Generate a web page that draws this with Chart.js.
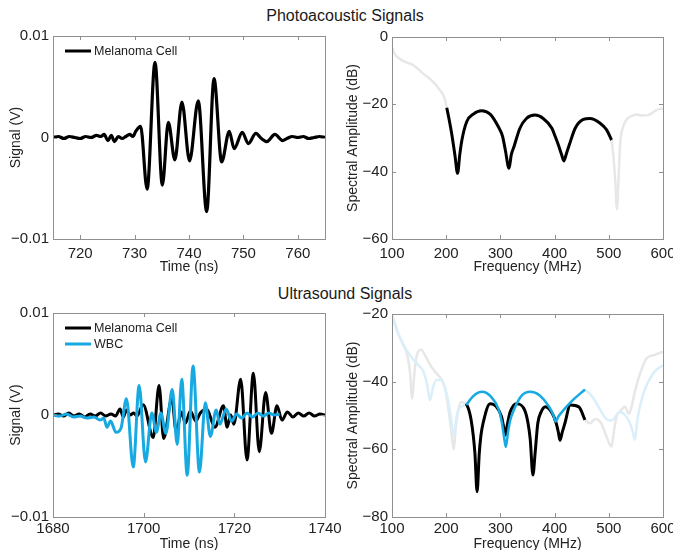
<!DOCTYPE html>
<html>
<head>
<meta charset="utf-8">
<script src="https://cdn.jsdelivr.net/npm/chart.js@4/dist/chart.umd.min.js"></script>
<style>
  html, body { margin: 0; padding: 0; background: #fff; }
  body { width: 673px; height: 550px; position: relative; overflow: hidden; font-family: "Liberation Sans", Arial, sans-serif; }
  .panel { position: absolute; }
  .suptitle { position: absolute; left: 0; width: 690px; text-align: center; font-size: 16px; color: #1a1a1a; }
</style>
</head>
<body>
<div class="suptitle" style="top:7px">Photoacoustic Signals</div>
<div class="suptitle" style="top:285px">Ultrasound Signals</div>
<div class="panel" style="left:0;top:30px;width:345px;height:250px"><canvas id="pa-time"></canvas></div>
<div class="panel" style="left:333px;top:30px;width:340px;height:250px"><canvas id="pa-spec"></canvas></div>
<div class="panel" style="left:0;top:300px;width:345px;height:250px"><canvas id="us-time"></canvas></div>
<div class="panel" style="left:333px;top:300px;width:340px;height:250px"><canvas id="us-spec"></canvas></div>
<script>
// ---- data ----
const PA_TIME   = [715,716,717,718,719,720,721,722,723,723.8,724.4,725.1,725.7,726.3,727,727.7,728.4,729.1,729.7,730.2,731.1,732.3,733.75,735.1,736.2,737.4,738.7,740.1,741.7,743.25,744.6,746.0,747.4,748.3,749.8,750.9,752.3,753.3,754.3,755.8,757.2,758,759,760,761,762,763,764,765];
const PA_SIGNAL = [0,0.0001,-0.0001,0.0001,0,-0.0001,0.0001,0,0.0002,0.0001,0.0003,-0.0003,0.0002,-0.0004,0.0001,-0.0001,0.0001,0.0003,0.0001,0.0006,0.0011,-0.0051,0.0074,-0.0047,0.0015,-0.0022,0.0035,-0.0023,0.0036,-0.0073,0.0058,-0.0024,0.0006,-0.0011,0.0005,-0.0006,0.0004,-0.0001,-0.0004,0.0003,-0.0003,-0.0001,0.0001,0,0.0001,-0.0001,0,0.0001,0];

const PA_FREQ_BAND = [201,206,210,216,221,225,229,238,250,265,281,296,304,309,316,320,325,336,348,364,379,395,401,407,413,417,422,427,438,453,465,484,496,505];
const PA_DB_BAND   = [-21,-25,-28.6,-35,-40.5,-35,-30.6,-25.1,-22.9,-21.9,-22.9,-26.6,-29.5,-33.5,-39,-35,-32.6,-27.1,-24.2,-23.2,-24.2,-27.1,-29.5,-32.1,-35,-36.8,-34.5,-32.1,-27.1,-24.5,-24.2,-25.6,-27.6,-30.6];
const PA_FREQ_LOW  = [100,105,111,123,139,157,176,188,197,201];
const PA_DB_LOW    = [-3,-5,-6.1,-7.3,-8.3,-10.8,-13.3,-15.7,-18.2,-21];
const PA_FREQ_HIGH = [505,508,512,515,518,521,527,532,541,551,562,572,588,600];
const PA_DB_HIGH   = [-30.6,-34.5,-43,-51.2,-42,-31.6,-26.5,-24.7,-23.5,-23,-23.3,-23.2,-21.7,-21.2];

const US_TIME_MEL   = [1680,1681.2,1682.3,1683.5,1684.6,1685.8,1687,1688.2,1689.3,1690.5,1691.6,1692.8,1693.8,1694.8,1695.5,1696.2,1697,1697.8,1698.5,1699.9,1702.1,1703.4,1704.4,1706.2,1707.2,1708.3,1709.2,1710.3,1711.5,1712.5,1713.9,1715.7,1717.6,1718.4,1719.2,1719.9,1721.4,1722.8,1724.2,1725.5,1726.9,1728.2,1729.4,1730.5,1731.7,1732.9,1734.1,1735.3,1736.5,1737.7,1738.9,1740];
const US_SIGNAL_MEL = [0,0.0001,-0.0001,0.0002,-0.0001,0.0001,-0.0002,0.0001,-0.0001,0.0002,-0.0001,0.0001,-0.0001,0.0006,-0.0002,0.0005,0,0.0002,-0.0001,0.001,-0.0022,0.0029,-0.0023,0.0016,-0.0017,0.0003,-0.0008,0.0004,-0.0006,0.0002,0.0006,-0.0012,0.0009,-0.0012,0,-0.0009,0.0035,-0.0044,0.0041,-0.0036,0.0022,-0.0018,0.0009,-0.0005,0.0003,-0.0002,0.0002,-0.0001,0.0002,-0.0001,0.0001,0];
const US_TIME_WBC   = [1680,1681.5,1683,1684.5,1686,1687.5,1689,1690.4,1691.2,1691.9,1692.7,1693.9,1695,1696.2,1697.7,1699.0,1700.4,1701.8,1702.8,1703.8,1704.9,1706.3,1707.4,1708.4,1709.6,1710.9,1712.3,1713.6,1714.7,1716.0,1716.8,1718.2,1719.4,1720.5,1721.6,1722.8,1724,1725.2,1726.4,1727.6,1728.8,1730];
const US_SIGNAL_WBC = [0,-0.0001,0.0001,-0.0002,-0.0001,-0.0003,-0.0002,-0.0005,-0.0003,-0.0012,-0.0006,-0.0017,-0.0013,0.0016,-0.0051,0.0029,-0.0046,0.0002,-0.0017,0.0002,-0.0018,0.0025,-0.0029,0.0035,-0.0059,0.0048,-0.0056,0.0012,-0.0021,0.0005,-0.0009,0.0006,-0.0006,0.0001,-0.0003,0.0002,-0.0002,0.0002,-0.0001,0.0002,0,0.0001];

const US_FREQ_MEL_BAND = [237,242,246,250,253,257,261,264,268,281,292,302,305,309,313,318,330,345,351,355,360,364,369,375,383,396,403,407,410,414,419,429,445,456];
const US_DB_MEL_BAND   = [-46.5,-48.5,-51.3,-56,-61.2,-72.5,-61.2,-56,-52.3,-46.5,-47.3,-50.3,-52.5,-55.8,-52.5,-49,-46.5,-48.5,-52.3,-57,-67.6,-61.2,-52.3,-49,-47.4,-49.5,-52.3,-55,-57.3,-55,-52.3,-46.9,-47.5,-51.3];
const US_FREQ_WBC_BAND = [237,249,266,283,296,302,306,310,314,318,326,340,355,372,390,398,402,407,416,434,456];
const US_DB_WBC_BAND   = [-46.9,-44.4,-43,-44.5,-47.9,-51.5,-55.5,-59.3,-55,-51.5,-47.9,-44,-43,-44,-47.5,-50,-51.8,-50.3,-48.5,-45.4,-42.3];
const US_FREQ_MEL_LOW  = [100,106,112,120,128,133,137.5,141,146,154,162,172,182,192,198,204,209,214,218,222,228,237];
const US_DB_MEL_LOW    = [-20.3,-23,-26,-29,-32,-37,-45,-38,-32,-30.6,-32.5,-35.5,-37.5,-39.5,-42,-48,-54,-60,-53,-48.5,-46,-46.5];
const US_FREQ_WBC_LOW  = [100,108,118,128,137,148,158,165,170,176,182,190,197,204,209,214,219,226,237];
const US_DB_WBC_LOW    = [-21,-24.5,-28,-31,-33,-35,-37,-41,-45.4,-41.5,-39.5,-39.5,-41.5,-46,-51,-56,-50.5,-47.5,-46.9];
const US_FREQ_MEL_HIGH = [456,465,475,485,493,500,505,510,515,520,530,537,541,548,558,570,585,600];
const US_DB_MEL_HIGH   = [-51.3,-52.3,-51,-52,-55,-58,-59.2,-54,-50,-48.9,-47.4,-49.5,-48,-43,-37.5,-33.1,-32.1,-31.1];
const US_FREQ_WBC_HIGH = [456,470,483,495,505,520,535,543,548,553,564,582,600];
const US_DB_WBC_HIGH   = [-42.3,-44.5,-48,-51,-51.5,-49,-51,-54,-57.2,-51,-43.4,-37.5,-35.1];

const PA_TIME_TICKS = [720,730,740,750,760];
const US_TIME_TICKS = [1680,1700,1720,1740];
const SIGNAL_TICKS  = [-0.01,0,0.01];
const FREQ_TICKS    = [100,200,300,400,500,600];
const PA_DB_TICKS   = [-60,-40,-20,0];
const US_DB_TICKS   = [-80,-60,-40,-20];

const BLACK = '#000000', BLUE = '#17a9e1', FADED_GRAY = '#e7e7e7', FADED_BLUE = '#daeff9';
const FONT = '"Liberation Sans", Arial, Helvetica, sans-serif';

Chart.defaults.font.family = FONT;
Chart.defaults.color = '#222';

const pts = (xs, ys) => xs.map((x, i) => ({ x, y: ys[i] }));
const minus = v => v === 0 ? '0' : (v < 0 ? '\u2212' : '') + Math.abs(v);

// box round the axes, inward tick marks on all four sides, legend inside top-left
const matlabAxes = {
  id: 'matlabAxes',
  afterDraw(chart) {
    const { ctx, chartArea: a, scales: { x, y } } = chart;
    ctx.save();
    ctx.strokeStyle = '#8f8f8f';
    ctx.lineWidth = 1;
    ctx.strokeRect(Math.round(a.left) + 0.5, Math.round(a.top) + 0.5, Math.round(a.width), Math.round(a.height));
    ctx.beginPath();
    x.ticks.forEach(t => {
      const p = Math.round(x.getPixelForValue(t.value)) + 0.5;
      ctx.moveTo(p, a.bottom); ctx.lineTo(p, a.bottom - 4);
      ctx.moveTo(p, a.top); ctx.lineTo(p, a.top + 4);
    });
    y.ticks.forEach(t => {
      const p = Math.round(y.getPixelForValue(t.value)) + 0.5;
      ctx.moveTo(a.left, p); ctx.lineTo(a.left + 4, p);
      ctx.moveTo(a.right, p); ctx.lineTo(a.right - 4, p);
    });
    ctx.stroke();
    const items = chart.data.datasets.filter(d => d.legend);
    items.sort((p, q) => p.legend - q.legend);
    ctx.font = '12.5px ' + FONT;
    ctx.textBaseline = 'middle';
    items.forEach((d, i) => {
      const yy = a.top + 15 + i * 16;
      ctx.strokeStyle = d.borderColor;
      ctx.lineWidth = 3;
      ctx.beginPath(); ctx.moveTo(a.left + 12, yy); ctx.lineTo(a.left + 38, yy); ctx.stroke();
      ctx.fillStyle = '#222';
      ctx.fillText(d.label, a.left + 41, yy + 1);
    });
    ctx.restore();
  }
};

function line(label, xs, ys, color, width, order, legend) {
  return { label, data: pts(xs, ys), borderColor: color, borderWidth: width, pointRadius: 0,
           cubicInterpolationMode: 'monotone', fill: false, order, legend };
}

function makeChart(id, datasets, cfg) {
  return new Chart(document.getElementById(id), {
    type: 'line',
    data: { datasets },
    plugins: [matlabAxes],
    options: {
      responsive: true, maintainAspectRatio: false, animation: false,
      layout: { padding: { top: cfg.padTop, right: cfg.padRight, left: 0, bottom: 0 } },
      plugins: { legend: { display: false }, tooltip: { enabled: false } },
      scales: {
        x: {
          type: 'linear', min: cfg.xMin, max: cfg.xMax,
          grid: { display: false, drawTicks: false }, border: { display: false },
          afterBuildTicks: s => { s.ticks = cfg.xTicks.map(v => ({ value: v })); },
          afterFit: s => { s.height = cfg.xHeight; s.paddingLeft = 0; s.paddingRight = 0; },
          ticks: { autoSkip: false, maxRotation: 0, padding: cfg.xTickPad, font: { size: 15 }, color: '#222', callback: v => minus(v) },
          title: { display: true, text: cfg.xTitle, font: { size: 14 }, color: '#222', padding: { top: 0, bottom: cfg.xTitlePad } }
        },
        y: {
          min: cfg.yMin, max: cfg.yMax,
          grid: { display: false, drawTicks: false }, border: { display: false },
          afterBuildTicks: s => { s.ticks = cfg.yTicks.map(v => ({ value: v })); },
          afterFit: s => { s.width = cfg.yWidth; s.paddingTop = 0; s.paddingBottom = 0; },
          ticks: { autoSkip: false, padding: 4, font: { size: 15 }, color: '#222', callback: v => minus(v) },
          title: { display: true, text: cfg.yTitle, font: { size: 14 }, color: '#222', padding: { top: cfg.yTitlePad, bottom: 0 } }
        }
      }
    }
  });
}

makeChart('pa-time', [
  line('Melanoma Cell', PA_TIME, PA_SIGNAL, BLACK, 3.2, 1, 1)
], { padTop: 6, padRight: 20, xMin: 715, xMax: 765, xTicks: PA_TIME_TICKS, xHeight: 41, xTickPad: 6, xTitle: 'Time (ns)', xTitlePad: 4,
     yMin: -0.01, yMax: 0.01, yTicks: SIGNAL_TICKS, yWidth: 53, yTitle: 'Signal (V)', yTitlePad: 8 });

makeChart('pa-spec', [
  line('', PA_FREQ_BAND, PA_DB_BAND, BLACK, 3, 1),
  line('', PA_FREQ_LOW, PA_DB_LOW, FADED_GRAY, 2.5, 2),
  line('', PA_FREQ_HIGH, PA_DB_HIGH, FADED_GRAY, 2.5, 2)
], { padTop: 7, padRight: 10, xMin: 100, xMax: 600, xTicks: FREQ_TICKS, xHeight: 41, xTickPad: 6, xTitle: 'Frequency (MHz)', xTitlePad: 4,
     yMin: -60, yMax: 0, yTicks: PA_DB_TICKS, yWidth: 59, yTitle: 'Spectral Amplitude (dB)', yTitlePad: 12 });

makeChart('us-time', [
  line('Melanoma Cell', US_TIME_MEL, US_SIGNAL_MEL, BLACK, 3, 2, 1),
  line('WBC', US_TIME_WBC, US_SIGNAL_WBC, BLUE, 3, 1, 2)
], { padTop: 13, padRight: 20, xMin: 1680, xMax: 1740, xTicks: US_TIME_TICKS, xHeight: 33, xTickPad: 3, xTitle: 'Time (ns)', xTitlePad: -3,
     yMin: -0.01, yMax: 0.01, yTicks: SIGNAL_TICKS, yWidth: 53, yTitle: 'Signal (V)', yTitlePad: 8 });

makeChart('us-spec', [
  line('', US_FREQ_WBC_BAND, US_DB_WBC_BAND, BLUE, 2.5, 1),
  line('', US_FREQ_MEL_BAND, US_DB_MEL_BAND, BLACK, 3, 2),
  line('', US_FREQ_MEL_LOW, US_DB_MEL_LOW, FADED_GRAY, 2.5, 4),
  line('', US_FREQ_MEL_HIGH, US_DB_MEL_HIGH, FADED_GRAY, 2.5, 4),
  line('', US_FREQ_WBC_LOW, US_DB_WBC_LOW, FADED_BLUE, 2.5, 3),
  line('', US_FREQ_WBC_HIGH, US_DB_WBC_HIGH, FADED_BLUE, 2.5, 3)
], { padTop: 14, padRight: 10, xMin: 100, xMax: 600, xTicks: FREQ_TICKS, xHeight: 33, xTickPad: 3, xTitle: 'Frequency (MHz)', xTitlePad: -3,
     yMin: -80, yMax: -20, yTicks: US_DB_TICKS, yWidth: 59, yTitle: 'Spectral Amplitude (dB)', yTitlePad: 12 });
</script>
</body>
</html>
